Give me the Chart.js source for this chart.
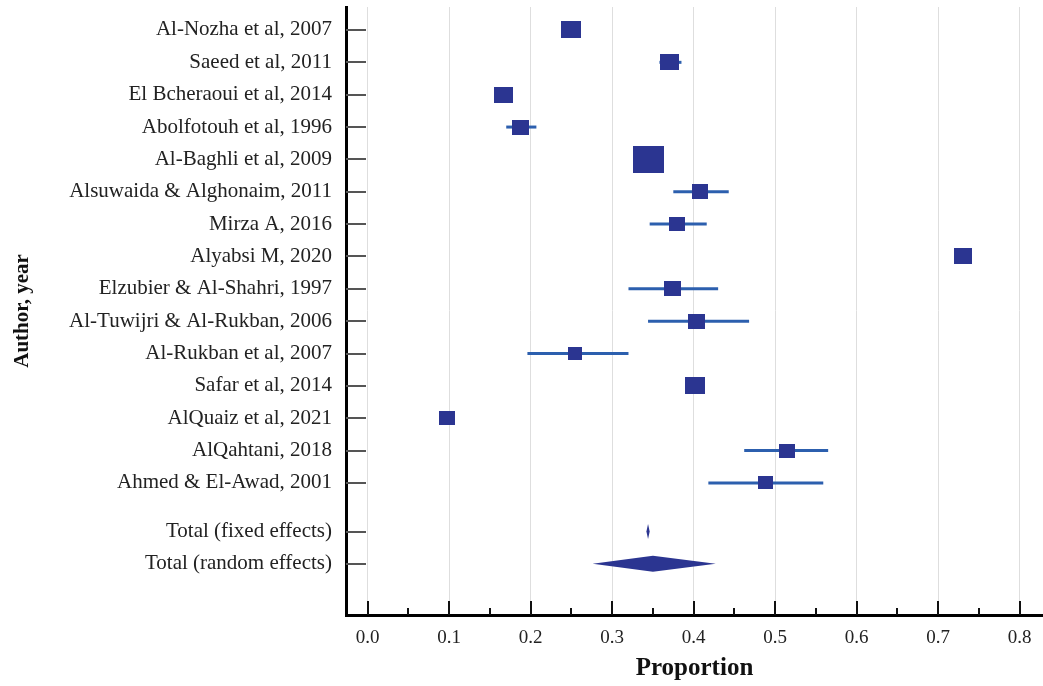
<!DOCTYPE html>
<html lang="en">
<head>
  <meta charset="UTF-8">
  <title>Forest plot - Proportion by study</title>
  <script src="https://cdn.jsdelivr.net/npm/chart.js"></script>
  <style>
    body { margin: 0; background: #fff; }
    .chart-container { width: 1043px; height: 686px; }
  </style>
</head>
<body>
  <div class="chart-container">
    <canvas id="forestChart"></canvas>
  </div>

  <script>
    // studies, top to bottom
    const studies = [
      'Al-Nozha et al, 2007', 'Saeed et al, 2011', 'El Bcheraoui et al, 2014',
      'Abolfotouh et al, 1996', 'Al-Baghli et al, 2009', 'Alsuwaida & Alghonaim, 2011',
      'Mirza A, 2016', 'Alyabsi M, 2020', 'Elzubier & Al-Shahri, 1997',
      'Al-Tuwijri & Al-Rukban, 2006', 'Al-Rukban et al, 2007', 'Safar et al, 2014',
      'AlQuaiz et al, 2021', 'AlQahtani, 2018', 'Ahmed & El-Awad, 2001'
    ];
    const estimate = [0.250, 0.370, 0.167, 0.188, 0.344, 0.408, 0.380, 0.730, 0.374, 0.404, 0.254, 0.401, 0.097, 0.514, 0.488];
    const lower    = [0.245, 0.358, 0.160, 0.170, 0.335, 0.375, 0.346, 0.722, 0.320, 0.344, 0.196, 0.392, 0.090, 0.462, 0.418];
    const upper    = [0.255, 0.385, 0.174, 0.207, 0.353, 0.443, 0.416, 0.737, 0.430, 0.468, 0.320, 0.410, 0.104, 0.565, 0.559];

    // pooled estimates
    const totals = ['Total (fixed effects)', 'Total (random effects)'];
    const totalEstimate = [0.344, 0.350];
    const totalLower    = [0.342, 0.276];
    const totalUpper    = [0.346, 0.427];

    const xTicks = [0.0, 0.1, 0.2, 0.3, 0.4, 0.5, 0.6, 0.7, 0.8];

    // marker box size (px), shows study weight
    const boxW = [20, 19, 19, 17, 31, 16, 16, 18, 17, 17, 14, 20, 16, 16, 15];
    const boxH = [17, 16, 16, 15, 27, 15, 14, 16, 15, 15, 13, 17, 14, 14, 13];

    const NAVY = '#2b3591';
    const CI_BLUE = '#2c5fae';
    const FONT = "'Liberation Serif', 'DejaVu Serif', serif";

    // row positions on the y scale: one per study, then a gap, then totals
    const rowPos = studies.map((s, i) => i);
    const totalPos = totals.map((s, j) => studies.length + 0.5 + j);
    const allPos = rowPos.concat(totalPos);
    const allLabels = studies.concat(totals);

    function boxStyle(w, h) {
      const c = document.createElement('canvas');
      c.width = w; c.height = h;
      const g = c.getContext('2d');
      g.fillStyle = NAVY;
      g.fillRect(0, 0, w, h);
      return c;
    }

    const datasets = [];
    studies.forEach((s, i) => {
      datasets.push({
        data: [{ x: lower[i], y: rowPos[i] }, { x: upper[i], y: rowPos[i] }],
        showLine: true,
        borderColor: CI_BLUE,
        borderWidth: 3,
        pointRadius: 0,
        order: 2
      });
    });
    datasets.push({
      data: studies.map((s, i) => ({ x: estimate[i], y: rowPos[i] })),
      pointStyle: studies.map((s, i) => boxStyle(boxW[i], boxH[i])),
      pointRadius: 5,
      order: 1
    });

    // diamonds for pooled estimates
    const diamonds = {
      id: 'diamonds',
      afterDatasetsDraw(chart) {
        const { ctx, scales: { x, y } } = chart;
        const halfH = [7.5, 8];
        ctx.save();
        ctx.fillStyle = NAVY;
        totals.forEach((t, j) => {
          const py = y.getPixelForValue(totalPos[j]);
          const lo = x.getPixelForValue(totalLower[j]);
          const hi = x.getPixelForValue(totalUpper[j]);
          const mid = x.getPixelForValue(totalEstimate[j]);
          ctx.beginPath();
          ctx.moveTo(lo, py);
          ctx.lineTo(mid, py - halfH[j]);
          ctx.lineTo(hi, py);
          ctx.lineTo(mid, py + halfH[j]);
          ctx.closePath();
          ctx.fill();
        });
        ctx.restore();
      }
    };

    // tick marks pointing into the plot area
    const innerTicks = {
      id: 'innerTicks',
      afterDatasetsDraw(chart) {
        const { ctx, scales: { x, y } } = chart;
        ctx.save();
        ctx.lineWidth = 2;
        ctx.strokeStyle = '#555';
        allPos.forEach(v => {
          const py = Math.round(y.getPixelForValue(v));
          ctx.beginPath();
          ctx.moveTo(y.right, py);
          ctx.lineTo(y.right + 20, py);
          ctx.stroke();
        });
        ctx.strokeStyle = '#111';
        const base = x.top;
        xTicks.forEach((v, i) => {
          const px = Math.round(x.getPixelForValue(v));
          ctx.beginPath();
          ctx.moveTo(px, base);
          ctx.lineTo(px, base - 14);
          ctx.stroke();
          if (i < xTicks.length - 1) {
            const mx = Math.round(x.getPixelForValue((v + xTicks[i + 1]) / 2));
            ctx.beginPath();
            ctx.moveTo(mx, base);
            ctx.lineTo(mx, base - 7);
            ctx.stroke();
          }
        });
        ctx.restore();
      }
    };

    const ctx = document.getElementById('forestChart').getContext('2d');
    new Chart(ctx, {
      type: 'scatter',
      data: { datasets: datasets },
      plugins: [innerTicks, diamonds],
      options: {
        responsive: true,
        maintainAspectRatio: false,
        animation: false,
        layout: { autoPadding: false, padding: { top: 7, right: 0, left: 0, bottom: 0 } },
        plugins: {
          legend: { display: false },
          tooltip: { enabled: false }
        },
        scales: {
          x: {
            type: 'linear',
            min: -0.0266,
            max: 0.8286,
            afterBuildTicks: axis => { axis.ticks = xTicks.map(v => ({ value: v })); },
            afterFit: axis => {
              axis.height = 71;
              axis.paddingLeft = 0;
              axis.paddingRight = 0;
            },
            grid: { color: '#dedede', lineWidth: 1, drawTicks: false },
            border: { color: '#000', width: 3 },
            ticks: {
              padding: 12,
              color: '#222',
              font: { family: FONT, size: 19 },
              callback: v => v.toFixed(1)
            },
            title: {
              display: true,
              text: 'Proportion',
              color: '#111',
              font: { family: FONT, size: 25, weight: 'bold' },
              padding: { top: 0, bottom: 2 }
            }
          },
          y: {
            type: 'linear',
            reverse: true,
            min: -0.71,
            max: 18.08,
            afterBuildTicks: axis => { axis.ticks = allPos.map(v => ({ value: v })); },
            afterFit: axis => {
              axis.width = 346;
              axis.paddingTop = 0;
              axis.paddingBottom = 0;
            },
            grid: { display: false, drawTicks: false },
            border: { color: '#000', width: 3 },
            ticks: {
              autoSkip: false,
              padding: 14,
              color: '#222',
              font: { family: FONT, size: 21 },
              callback: (v, i) => allLabels[i]
            },
            title: {
              display: true,
              text: 'Author, year',
              color: '#111',
              font: { family: FONT, size: 21, weight: 'bold' },
              padding: { top: 10, bottom: 0 }
            }
          }
        }
      }
    });
  </script>
</body>
</html>
